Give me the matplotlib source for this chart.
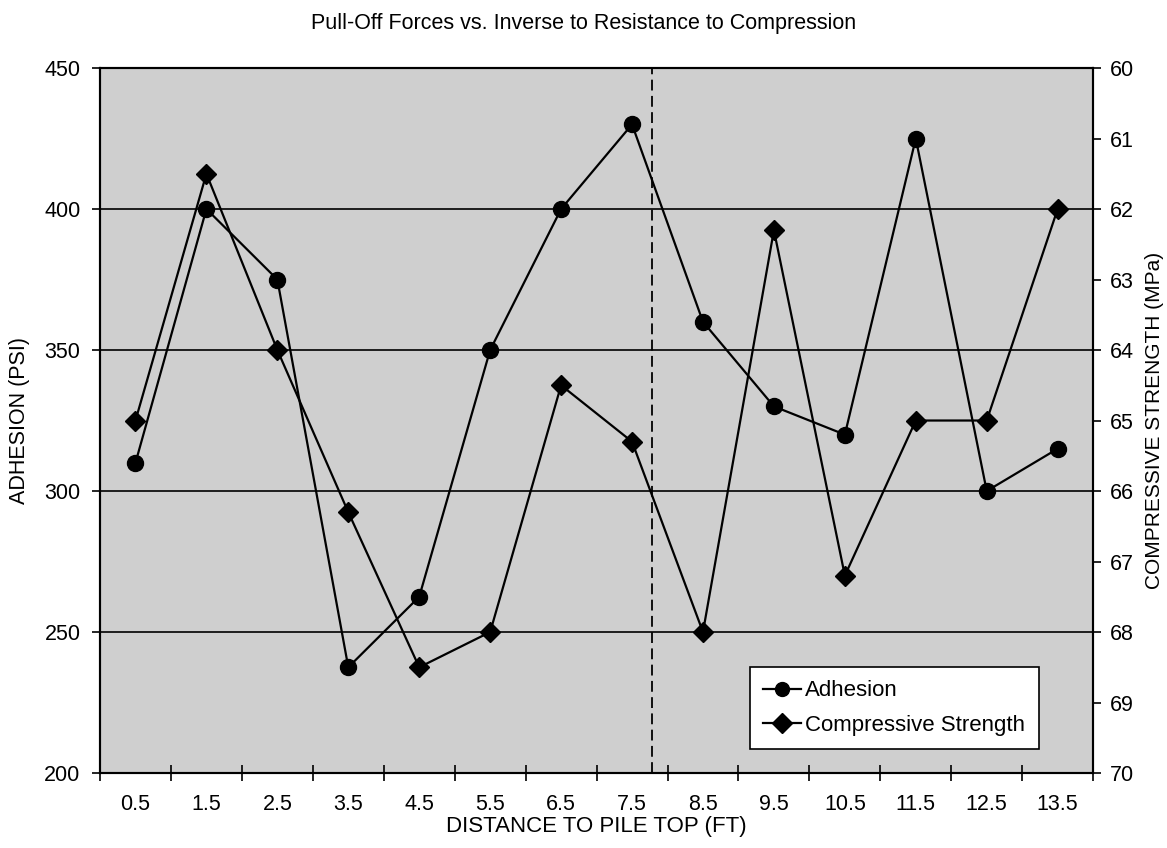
import numpy as np
import matplotlib
matplotlib.use("Agg")
import matplotlib.pyplot as plt
from matplotlib.ticker import FixedLocator, NullFormatter

plt.rcParams['font.family'] = ['Liberation Sans', 'DejaVu Sans']

distance = [0.5, 1.5, 2.5, 3.5, 4.5, 5.5, 6.5, 7.5, 8.5, 9.5, 10.5, 11.5, 12.5, 13.5]
adhesion = [310, 400, 375, 237.5, 262.5, 350, 400, 430, 360, 330, 320, 425, 300, 315]
compressive = [65.0, 61.5, 64.0, 66.3, 68.5, 68.0, 64.5, 65.3, 68.0, 62.3, 67.2, 65.0, 65.0, 62.0]
tick_labels = ['0.5', '1.5', '2.5', '3.5', '4.5', '5.5', '6.5', '7.5', '8.5', '9.5',
               '10.5', '11.5', '12.5', '13.5']
divider_x = 7.78

fig = plt.figure(figsize=(11.67, 8.48), dpi=100)
ax = fig.add_axes((0.0857, 0.0884, 0.851, 0.8314))
ax.set_facecolor('#cfcfcf')
ax2 = ax.twinx()

# left axis: adhesion
ax.set_xlim(0, 14)
ax.set_ylim(200, 450)
ax.set_yticks(np.arange(200, 451, 50))
ax.yaxis.grid(True, color='black', linewidth=1.2)
ax.set_axisbelow(True)
ax.xaxis.set_major_locator(FixedLocator(distance))
ax.set_xticklabels(tick_labels)
ax.xaxis.set_minor_locator(FixedLocator(np.arange(0, 15, 1)))
ax.xaxis.set_minor_formatter(NullFormatter())
ax.tick_params(axis='x', which='major', length=0, pad=15, labelsize=15.5)
ax.tick_params(axis='x', which='minor', direction='inout', length=12, width=1.2)
ax.tick_params(axis='y', direction='out', length=6, width=1.2, labelsize=15.5, pad=8)

ax.axvline(divider_x, color='black', linestyle=(0, (6, 3)), linewidth=1.3)

l1, = ax.plot(distance, adhesion, color='black', linewidth=1.6, marker='o',
              markersize=11.5, zorder=5)

# right axis: compressive strength (inverted)
ax2.set_ylim(70, 60)
ax2.set_yticks(np.arange(60, 71, 1))
ax2.tick_params(axis='y', direction='out', length=6, width=1.2, labelsize=15.5, pad=6)
l2, = ax2.plot(distance, compressive, color='black', linewidth=1.6, marker='D',
               markersize=10, zorder=5)

for a in (ax, ax2):
    for s in a.spines.values():
        s.set_linewidth(1.5)

ax.set_ylabel('ADHESION (PSI)', fontsize=15.5)
ax.yaxis.set_label_coords(-0.071, 0.5)
ax2.set_ylabel('COMPRESSIVE STRENGTH (MPa)', fontsize=15)
ax2.yaxis.set_label_coords(1.052, 0.5)
ax.set_xlabel('DISTANCE TO PILE TOP (FT)', fontsize=16, labelpad=1)
fig.suptitle('Pull-Off Forces vs. Inverse to Resistance to Compression',
             fontsize=15.5, y=0.985)

leg = ax2.legend([l1, l2], ['Adhesion', 'Compressive Strength'], loc='lower right',
                 bbox_to_anchor=(0.945, 0.034), fontsize=16, fancybox=False,
                 framealpha=1, edgecolor='black', handlelength=1.7,
                 handletextpad=0.2, borderpad=0.6, labelspacing=0.6,
                 borderaxespad=0)
leg.get_frame().set_linewidth(1.2)
for h in leg.legend_handles:
    h.set_markersize(10)

fig.savefig('out.png', dpi=100)
